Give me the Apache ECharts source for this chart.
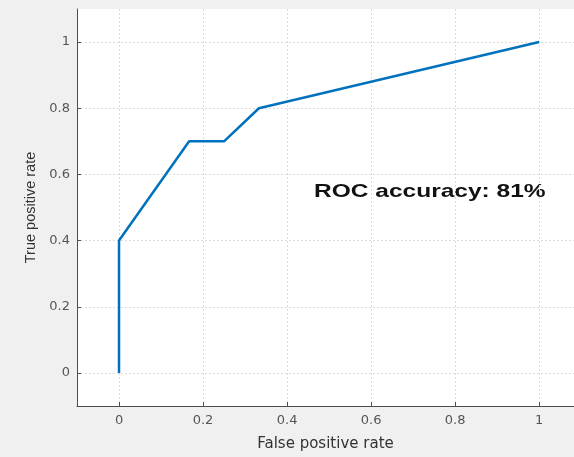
<!DOCTYPE html>
<html>
<head>
<meta charset="utf-8">
<script src="https://cdn.jsdelivr.net/npm/echarts@6/dist/echarts.min.js"></script>
<style>
  html, body { margin: 0; padding: 0; background: #f0f0f0; }
  #roc_chart { width: 574px; height: 457px; }
</style>
</head>
<body>
<div id="roc_chart"></div>
<script>
// ROC curve points
var fpr = [0, 0, 0.167, 0.25, 0.333, 1];
var tpr = [0, 0.4, 0.7, 0.7, 0.8, 1];
var xTicks = [0, 0.2, 0.4, 0.6, 0.8, 1];
var yTicks = [0, 0.2, 0.4, 0.6, 0.8, 1];
var accuracyText = "ROC accuracy: 81%";

var rocData = [];
for (let i = 0; i < fpr.length; i++) {
  rocData.push([fpr[i], tpr[i]]);
}

var axisColor = "#4d4d4d";
var gridLine = {
  show: true,
  lineStyle: { color: "#dcdcdc", width: 1, type: [2, 2] },
};

var roc_Chart = echarts.init(document.getElementById("roc_chart"));
var option = {
  animation: false,
  backgroundColor: "#f0f0f0",
  grid: {
    left: 77,
    top: 9,
    right: 0,
    bottom: 41,
    show: true,
    backgroundColor: "#ffffff",
    borderWidth: 0,
  },
  xAxis: {
    type: "value",
    min: -0.1,
    max: 1.083,
    name: "False positive rate",
    nameLocation: "middle",
    nameGap: 31,
    nameTextStyle: { color: "#333", fontSize: 15, fontFamily: "DejaVu Sans" },
    axisLine: { show: true, onZero: false, lineStyle: { color: axisColor, width: 1 } },
    axisTick: { show: true, inside: true, length: 4, customValues: xTicks, lineStyle: { color: axisColor } },
    axisLabel: {
      customValues: xTicks,
      color: "#555",
      fontSize: 13,
      fontFamily: "DejaVu Sans",
      margin: 8,
      formatter: function (v) { return String(+v.toFixed(1)); },
    },
    splitLine: gridLine,
  },
  yAxis: {
    type: "value",
    min: -0.1,
    max: 1.1,
    name: "True positive rate",
    nameLocation: "middle",
    nameGap: 38,
    nameTextStyle: { color: "#333", fontSize: 14.5, fontFamily: "Liberation Sans" },
    axisLine: { show: true, onZero: false, lineStyle: { color: axisColor, width: 1 } },
    axisTick: { show: true, inside: true, length: 4, customValues: yTicks, lineStyle: { color: axisColor } },
    axisLabel: {
      customValues: yTicks,
      color: "#555",
      fontSize: 13,
      fontFamily: "DejaVu Sans",
      margin: 7,
      formatter: function (v) { return String(+v.toFixed(1)); },
    },
    splitLine: gridLine,
  },
  series: [
    {
      type: "line",
      data: rocData,
      showSymbol: false,
      symbol: "none",
      lineStyle: { color: "#0072bd", width: 2.5 },
    },
  ],
  graphic: [
    {
      type: "text",
      x: 314,
      y: 192,
      scaleX: 1.29,
      style: {
        text: accuracyText,
        fill: "#111",
        font: "bold 19px 'Liberation Sans'",
        textAlign: "left",
        textVerticalAlign: "middle",
      },
    },
  ],
};
roc_Chart.setOption(option);
</script>
</body>
</html>
